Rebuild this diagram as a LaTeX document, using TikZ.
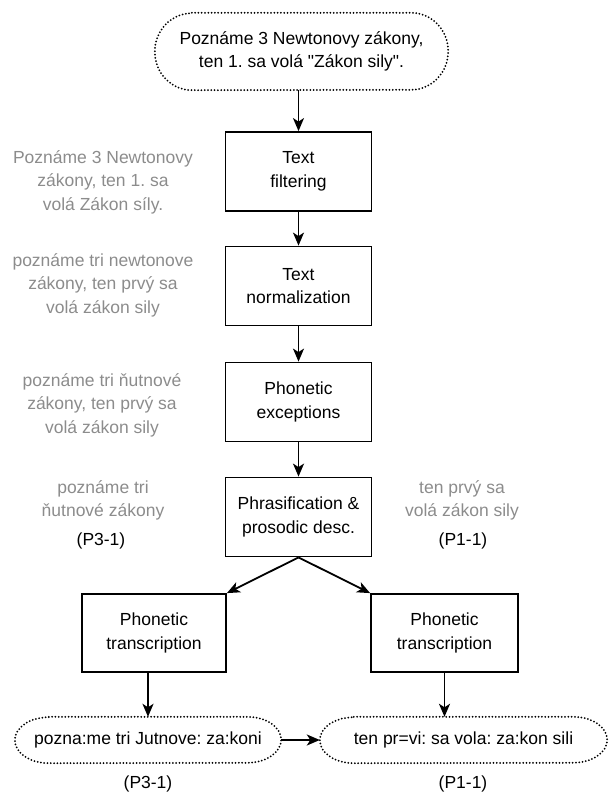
\documentclass[tikz,border=0pt]{standalone}
\usepackage{fontspec}
\setmainfont{Liberation Sans}
\newfontfamily\lsans{Liberation Sans}
\usetikzlibrary{arrows.meta}
\definecolor{graytxt}{RGB}{140,140,140}
\frenchspacing
\newcommand{\stadiumpath}[3]{%
  \draw[dotline] ([xshift=#2]#1.north west) -- ([xshift=-#2]#1.north east)
    arc[start angle=90,end angle=-90,x radius=#2,y radius=#3]
    -- ([xshift=#2]#1.south west)
    arc[start angle=270,end angle=90,x radius=#2,y radius=#3] -- cycle;}
\begin{document}
\begin{tikzpicture}[x=1pt,y=-1pt,
  every node/.style={font=\lsans\fontsize{17.5}{23.5}\selectfont\frenchspacing, align=center, inner sep=0pt},
  procbox/.style={draw, line width=1.8pt, minimum width=146pt, minimum height=79pt},
  note/.style={text=graytxt},
  arr/.style={line width=1.8pt, -{Stealth[length=13pt,width=11pt,inset=3.5pt]}},
  dotline/.style={line width=2pt, dash pattern=on 0pt off 3.3pt, line cap=round}]
\useasboundingbox (0,0) rectangle (609,794);
% source
\node[minimum width=293pt, minimum height=77pt] (src) at (301.5,51.5)
  {Poznáme 3 Newtonovy zákony,\\ten 1. sa volá "Zákon sily".};
\stadiumpath{src}{37pt}{38.5pt}
% process boxes
\node[procbox] (filt) at (298.5,171.5) {Text\\filtering};
\node[procbox] (norm) at (298.5,286) {Text\\normalization};
\node[procbox] (exc) at (298.5,402) {Phonetic\\exceptions};
\node[procbox] (phr) at (298.5,517) {Phrasification \&\\prosodic desc.};
\node[procbox, minimum width=144pt, minimum height=78pt] (ltr) at (154,633) {Phonetic\\transcription};
\node[procbox, minimum width=147pt, minimum height=78pt] (rtr) at (444.5,633) {Phonetic\\transcription};
% outputs
\node[minimum width=266pt, minimum height=46pt] (lout) at (148,740) {pozna:me tri Jutnove: za:koni};
\stadiumpath{lout}{34pt}{23pt}
\node[minimum width=287pt, minimum height=46pt] (rout) at (463.5,740) {ten pr=vi: sa vola: za:kon sili};
\stadiumpath{rout}{34pt}{23pt}
% notes
\node[note] (n1) at (103,182) {Poznáme 3 Newtonovy\\zákony, ten 1. sa\\volá Zákon síly.};
\node[note] (n2) at (103,285) {poznáme tri newtonove\\zákony, ten prvý sa\\volá zákon sily};
\node[note] (n3) at (102,405) {poznáme tri ňutnové\\zákony, ten prvý sa\\volá zákon sily};
\node[note] (n4) at (103,500.5) {poznáme tri\\ňutnové zákony};
\node (p3a) at (101,541) {(P3-1)};
\node[note] (n5) at (462,500.5) {ten prvý sa\\volá zákon sily};
\node (p1a) at (463,541) {(P1-1)};
\node (p3b) at (148,784) {(P3-1)};
\node (p1b) at (463,784) {(P1-1)};
% arrows
\draw[arr] (filt.north |- src.south) -- (filt.north);
\draw[arr] (filt) -- (norm);
\draw[arr] (norm) -- (exc);
\draw[arr] (exc) -- (phr);
\draw[arr] (phr.south) -- (ltr.north east);
\draw[arr] (phr.south) -- (rtr.north west);
\draw[arr] (lout.north |- ltr.south) -- (lout.north);
\draw[arr] (rtr.south) -- (rtr.south |- rout.north);
\draw[arr] (lout.east) -- (rout.west);
\end{tikzpicture}
\end{document}
